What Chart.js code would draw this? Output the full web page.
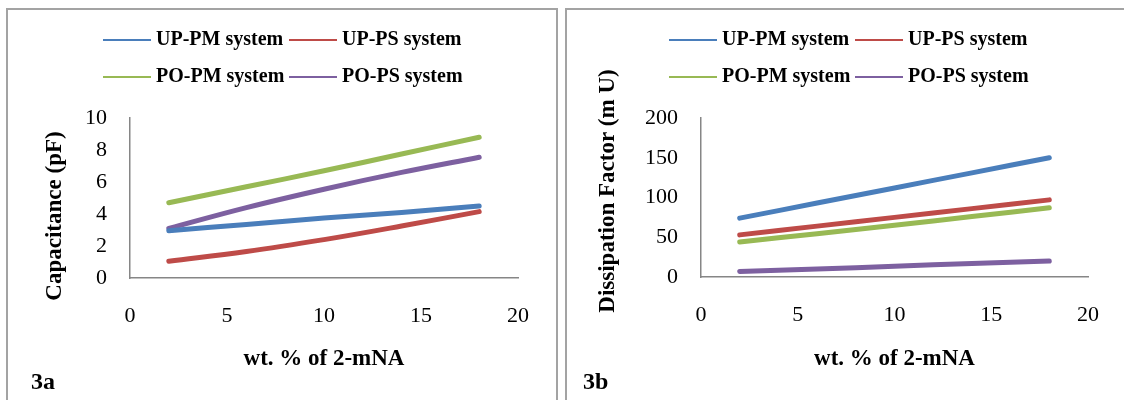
<!DOCTYPE html>
<html>
<head>
<meta charset="utf-8">
<title>Capacitance and dissipation factor vs wt. % of 2-mNA</title>
<script src="https://cdn.jsdelivr.net/npm/chart.js@4.4.0/dist/chart.umd.min.js"></script>
<style>
    body { margin: 0; background: #fff; width: 1124px; height: 400px; overflow: hidden; position: relative; }
    .panel { position: absolute; top: 8px; height: 400px; border: 2px solid #a3a3a3; border-bottom: none; box-sizing: border-box; }
    canvas { position: absolute; top: 0; }
</style>
</head>
<body>
<div class="panel" style="left:6px;width:552px"></div>
<div class="panel" style="left:565px;width:570px"></div>
<canvas id="capChart" width="560" height="400" style="left:0"></canvas>
<canvas id="dfChart" width="564" height="400" style="left:560px"></canvas>

<script>
// wt. % of 2-mNA
var xValues = [2, 6, 10, 14, 18];
var xTicks = [0, 5, 10, 15, 20];

var seriesNames = ['UP-PM system', 'UP-PS system', 'PO-PM system', 'PO-PS system'];
var seriesColors = ['#4A7EBB', '#BE4B48', '#98B954', '#7D60A0'];

// 3a - capacitance (pF)
var capUpPm = [2.95, 3.35, 3.75, 4.1, 4.5];
var capUpPs = [1.05, 1.65, 2.4, 3.25, 4.15];
var capPoPm = [4.7, 5.7, 6.7, 7.75, 8.8];
var capPoPs = [3.1, 4.4, 5.55, 6.6, 7.55];
var capTicks = [0, 2, 4, 6, 8, 10];

// 3b - dissipation factor (mU)
var dfUpPm = [74, 93, 112, 131, 150];
var dfUpPs = [53, 64, 75, 86, 97];
var dfPoPm = [44, 54.5, 65, 76, 87];
var dfPoPs = [7, 10, 13.5, 17, 20];
var dfTicks = [0, 50, 100, 150, 200];

Chart.defaults.font.family = '"Liberation Serif", "Times New Roman", serif';
Chart.defaults.color = '#000';

// legend (two per row), rotated y title and panel label
var panelText = {
    id: 'panelText',
    afterDraw: function (chart, args, opts) {
        var ctx = chart.ctx;
        ctx.save();
        ctx.font = 'bold 20px "Liberation Serif"';
        ctx.textBaseline = 'middle';
        ctx.textAlign = 'left';
        chart.data.datasets.forEach(function (ds, i) {
            var x = opts.legendX + (i % 2) * 186;
            var y = 40 + Math.floor(i / 2) * 37;
            ctx.strokeStyle = ds.borderColor;
            ctx.lineWidth = 2;
            ctx.beginPath();
            ctx.moveTo(x, y);
            ctx.lineTo(x + 48, y);
            ctx.stroke();
            ctx.fillStyle = '#000';
            ctx.fillText(ds.label, x + 53, y);
        });

        ctx.font = 'bold 24px "Liberation Serif"';
        ctx.fillText(opts.panel, opts.panelX, 383);

        ctx.font = 'bold 23px "Liberation Serif"';
        ctx.textAlign = 'center';
        ctx.translate(opts.yTitleX, opts.yTitleY);
        ctx.rotate(-Math.PI / 2);
        ctx.fillText(opts.yTitle, 0, 0);
        ctx.restore();
    }
};

function makeDatasets(values) {
    return values.map(function (vals, i) {
        return {
            label: seriesNames[i],
            data: xValues.map(function (x, j) { return { x: x, y: vals[j] }; }),
            borderColor: seriesColors[i],
            backgroundColor: seriesColors[i],
            borderWidth: 5,
            borderCapStyle: 'round',
            pointRadius: 0,
            tension: 0.4
        };
    });
}

function renderChart(id, values, yTicks, layout) {
    var ctx = document.getElementById(id).getContext('2d');
    new Chart(ctx, {
        type: 'line',
        data: { datasets: makeDatasets(values) },
        plugins: [panelText],
        options: {
            responsive: false,
            animation: false,
            layout: { padding: { left: 0, right: layout.padRight, top: 118, bottom: 0 } },
            plugins: {
                legend: { display: false },
                tooltip: { enabled: false },
                panelText: layout.text
            },
            scales: {
                x: {
                    type: 'linear',
                    min: xTicks[0],
                    max: xTicks[xTicks.length - 1],
                    afterBuildTicks: function (s) { s.ticks = xTicks.map(function (v) { return { value: v }; }); },
                    afterFit: function (s) { s.height = layout.xHeight; },
                    grid: { display: false, drawTicks: false },
                    border: { display: true, color: '#868686', width: 1.5 },
                    ticks: { padding: 25, font: { size: 22 }, maxRotation: 0 },
                    title: {
                        display: true,
                        text: 'wt. % of 2-mNA',
                        font: { size: 23, weight: 'bold' },
                        padding: { top: 0, bottom: 27 }
                    }
                },
                y: {
                    min: yTicks[0],
                    max: yTicks[yTicks.length - 1],
                    afterBuildTicks: function (s) { s.ticks = yTicks.map(function (v) { return { value: v }; }); },
                    afterFit: function (s) { s.width = layout.yWidth; },
                    grid: { display: false, drawTicks: false },
                    border: { display: true, color: '#868686', width: 1.5 },
                    ticks: { padding: 23, font: { size: 22 } }
                }
            }
        }
    });
}

renderChart('capChart', [capUpPm, capUpPs, capPoPm, capPoPs], capTicks, {
    padRight: 42, yWidth: 130, xHeight: 122,
    text: { legendX: 103, panel: '3a', panelX: 31, yTitle: 'Capacitance (pF)', yTitleX: 55, yTitleY: 216 }
});

renderChart('dfChart', [dfUpPm, dfUpPs, dfPoPm, dfPoPs], dfTicks, {
    padRight: 32, yWidth: 141, xHeight: 123,
    text: { legendX: 109, panel: '3b', panelX: 23, yTitle: 'Dissipation Factor (m U)', yTitleX: 48, yTitleY: 191 }
});
</script>
</body>
</html>
